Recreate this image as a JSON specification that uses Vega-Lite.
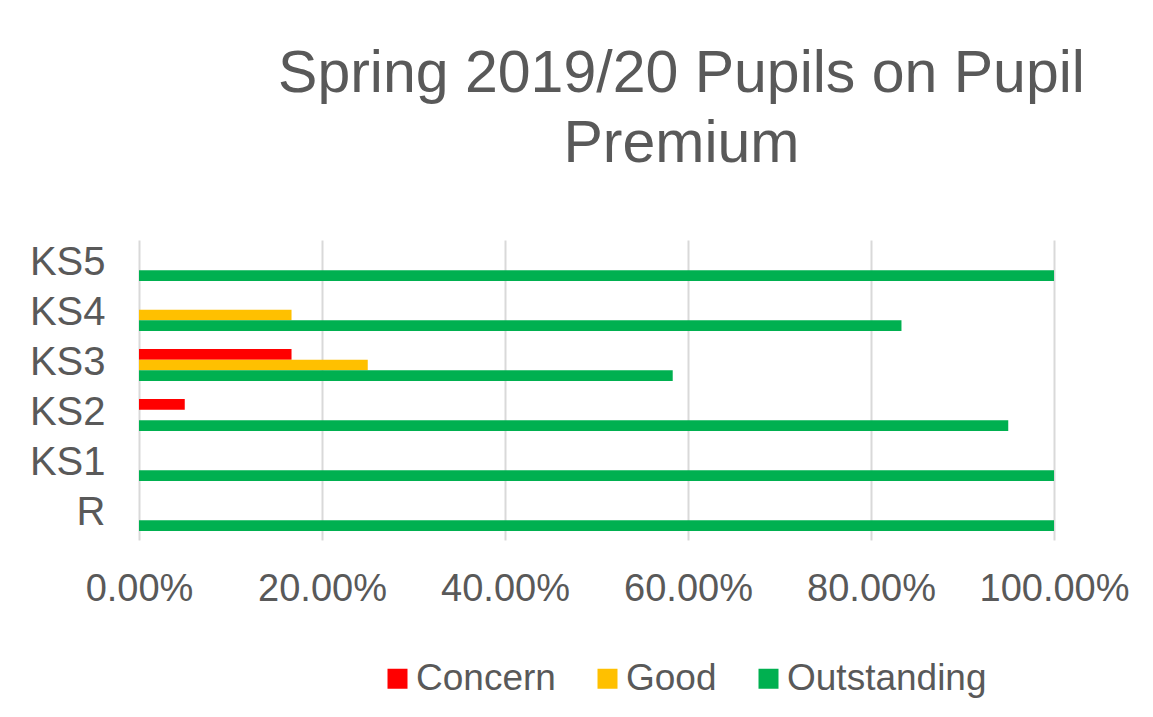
{
  "$schema": "https://vega.github.io/schema/vega-lite/v6.json",
  "autosize": "none",
  "width": 915,
  "height": 300,
  "padding": {"left": 139, "top": 240, "right": 99, "bottom": 177},
  "background": "white",
  "title": {
    "text": ["Spring 2019/20 Pupils on Pupil", "Premium"],
    "anchor": "middle",
    "dx": 85,
    "offset": 66,
    "font": "Liberation Sans",
    "fontSize": 59,
    "fontWeight": "normal",
    "color": "#595959",
    "lineHeight": 70
  },
  "data": {
    "values": [
      {"stage": "KS5", "level": "Outstanding", "pct": 1.0},
      {"stage": "KS4", "level": "Good", "pct": 0.1667},
      {"stage": "KS4", "level": "Outstanding", "pct": 0.8333},
      {"stage": "KS3", "level": "Concern", "pct": 0.1667},
      {"stage": "KS3", "level": "Good", "pct": 0.25},
      {"stage": "KS3", "level": "Outstanding", "pct": 0.5833},
      {"stage": "KS2", "level": "Concern", "pct": 0.05},
      {"stage": "KS2", "level": "Outstanding", "pct": 0.95},
      {"stage": "KS1", "level": "Outstanding", "pct": 1.0},
      {"stage": "R", "level": "Outstanding", "pct": 1.0}
    ]
  },
  "mark": {"type": "bar", "cornerRadius": 0},
  "encoding": {
    "y": {
      "field": "stage",
      "type": "nominal",
      "sort": ["KS5", "KS4", "KS3", "KS2", "KS1", "R"],
      "scale": {"paddingInner": 0.36, "paddingOuter": 0.18},
      "axis": {
        "title": null,
        "domain": false,
        "ticks": false,
        "labelFont": "Liberation Sans",
        "labelFontSize": 40,
        "labelColor": "#595959",
        "labelPadding": 34,
        "labelOffset": -2
      }
    },
    "yOffset": {
      "field": "level",
      "type": "nominal",
      "sort": ["Concern", "Good", "Outstanding"],
      "scale": {"paddingInner": 0, "paddingOuter": 0}
    },
    "x": {
      "field": "pct",
      "type": "quantitative",
      "scale": {"domain": [0, 1]},
      "axis": {
        "title": null,
        "format": ".2%",
        "values": [0, 0.2, 0.4, 0.6, 0.8, 1],
        "domain": false,
        "ticks": false,
        "grid": true,
        "gridColor": "#D9D9D9",
        "gridWidth": 2,
        "labelFont": "Liberation Sans",
        "labelFontSize": 38,
        "labelColor": "#595959",
        "labelPadding": 30,
        "labelFlush": false
      }
    },
    "color": {
      "field": "level",
      "type": "nominal",
      "scale": {
        "domain": ["Concern", "Good", "Outstanding"],
        "range": ["#FF0000", "#FFC000", "#00B050"]
      },
      "legend": {
        "title": null,
        "orient": "none",
        "direction": "horizontal",
        "legendX": 240,
        "legendY": 420,
        "padding": 0,
        "symbolType": "square",
        "symbolSize": 400,
        "symbolStrokeWidth": 0,
        "symbolOpacity": 1,
        "labelFont": "Liberation Sans",
        "labelFontSize": 37,
        "labelColor": "#595959",
        "labelOffset": 0,
        "columnPadding": 33,
        "labelLimit": 400
      }
    }
  },
  "config": {
    "view": {"stroke": null}
  }
}
